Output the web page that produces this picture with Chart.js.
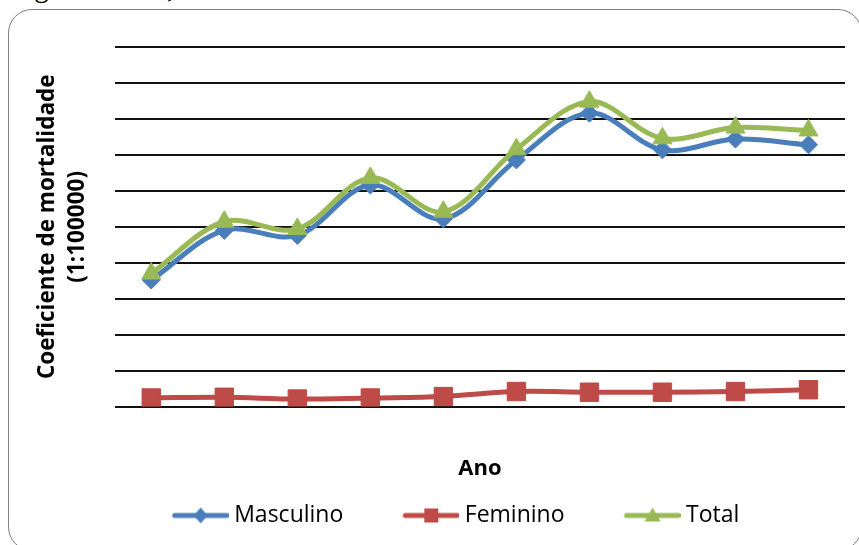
<!DOCTYPE html>
<html>
<head>
<meta charset="utf-8">
<script src="https://cdn.jsdelivr.net/npm/chart.js"></script>
<style>
  html, body { margin: 0; padding: 0; background: #fff; overflow: hidden; }
  body { width: 859px; height: 545px; position: relative; }
  #caption {
    position: absolute; left: 10px; top: -27px;
    font-family: "Liberation Serif", "Times New Roman", serif;
    font-size: 29px; line-height: 1; color: #000; white-space: nowrap;
  }
  #frame {
    position: absolute; left: 8px; top: 9px; width: 852px; height: 540px;
    border: 1.5px solid #808080; border-radius: 24px;
  }
  #chart { position: absolute; left: 0; top: 0; }
</style>
</head>
<body>
<div id="caption">segundo sexo, 1998-2007.</div>
<div id="frame"></div>
<canvas id="chart" width="859" height="545"></canvas>
<script>
// ===== DATA =====
const anos = ["1998", "1999", "2000", "2001", "2002", "2003", "2004", "2005", "2006", "2007"];
const masculino = [17.6, 24.5, 23.8, 30.8, 26.1, 34.3, 40.8, 35.7, 37.2, 36.4];
const feminino = [1.2, 1.3, 1.05, 1.2, 1.4, 2.1, 2.0, 2.0, 2.1, 2.35];
const total = [18.5, 25.7, 24.7, 31.8, 27.1, 35.8, 42.4, 37.3, 38.8, 38.4];

const azul = "#4a7ebb";
const vermelho = "#be4b48";
const verde = "#98b954";

// ===== LEGEND SWATCH (line + marker) =====
function swatch(color, style){
    const c = document.createElement("canvas");
    c.width = 112; c.height = 24;
    const g = c.getContext("2d");
    const cy = 12, x0 = 58, x1 = 110, mx = (x0 + x1) / 2;
    g.strokeStyle = color;
    g.lineWidth = 5;
    g.lineCap = "round";
    g.beginPath(); g.moveTo(x0, cy); g.lineTo(x1, cy); g.stroke();
    g.fillStyle = color;
    g.beginPath();
    if(style === "diamond"){
        g.moveTo(mx, cy - 8); g.lineTo(mx + 7, cy); g.lineTo(mx, cy + 8); g.lineTo(mx - 7, cy);
    } else if(style === "square"){
        g.rect(mx - 7, cy - 7, 14, 14);
    } else {
        g.moveTo(mx, cy - 8); g.lineTo(mx + 8, cy + 6); g.lineTo(mx - 8, cy + 6);
    }
    g.closePath();
    g.fill();
    return c;
}
const sw = {
    Masculino: swatch(azul, "diamond"),
    Feminino: swatch(vermelho, "square"),
    Total: swatch(verde, "triangle")
};

Chart.defaults.font.family = "'Open Sans', sans-serif";
Chart.defaults.color = "#000";

new Chart(document.getElementById("chart"), {
    type: "line",
    data: {
        labels: anos,
        datasets: [{
            label: "Masculino",
            data: masculino,
            borderColor: azul,
            backgroundColor: azul,
            borderWidth: 5,
            tension: 0.35,
            pointStyle: "rectRot",
            pointRadius: 9,
            pointBorderWidth: 1,
            order: 1
        }, {
            label: "Feminino",
            data: feminino,
            borderColor: vermelho,
            backgroundColor: vermelho,
            borderWidth: 5,
            tension: 0.35,
            pointStyle: "rect",
            pointRadius: 13,
            pointBorderWidth: 1,
            order: 2
        }, {
            label: "Total",
            data: total,
            borderColor: verde,
            backgroundColor: verde,
            borderWidth: 5,
            tension: 0.35,
            pointStyle: "triangle",
            pointRadius: 11,
            pointBorderWidth: 1,
            order: 0
        }]
    },
    options: {
        responsive: false,
        animation: false,
        devicePixelRatio: 1,
        layout: { padding: { top: 47, left: 17, right: 14, bottom: 8 } },
        scales: {
            x: {
                offset: true,
                grid: { display: false },
                border: { display: false },
                ticks: { display: false },
                title: {
                    display: true,
                    text: "Ano",
                    font: { size: 22, weight: "bold", lineHeight: 1.2 },
                    padding: { top: 41, bottom: 12 }
                }
            },
            y: {
                min: 0,
                max: 50,
                grid: { color: "#111", lineWidth: 2, drawTicks: false },
                border: { display: false },
                ticks: { display: false, stepSize: 5 },
                title: {
                    display: true,
                    text: ["Coeficiente de mortalidade", "(1:100000)"],
                    font: { size: 22.5, weight: "bold", lineHeight: 1.35 },
                    padding: { top: 15, bottom: 22 }
                }
            }
        },
        plugins: {
            tooltip: { enabled: false },
            legend: {
                position: "bottom",
                labels: {
                    usePointStyle: true,
                    pointStyleWidth: 100,
                    padding: 10,
                    font: { size: 23 },
                    sort: (a, b) => a.datasetIndex - b.datasetIndex,
                    generateLabels: (chart) => {
                        const items = Chart.defaults.plugins.legend.labels.generateLabels(chart);
                        items.forEach(it => { it.pointStyle = sw[it.text]; });
                        return items;
                    }
                }
            }
        }
    }
});
</script>
</body>
</html>
